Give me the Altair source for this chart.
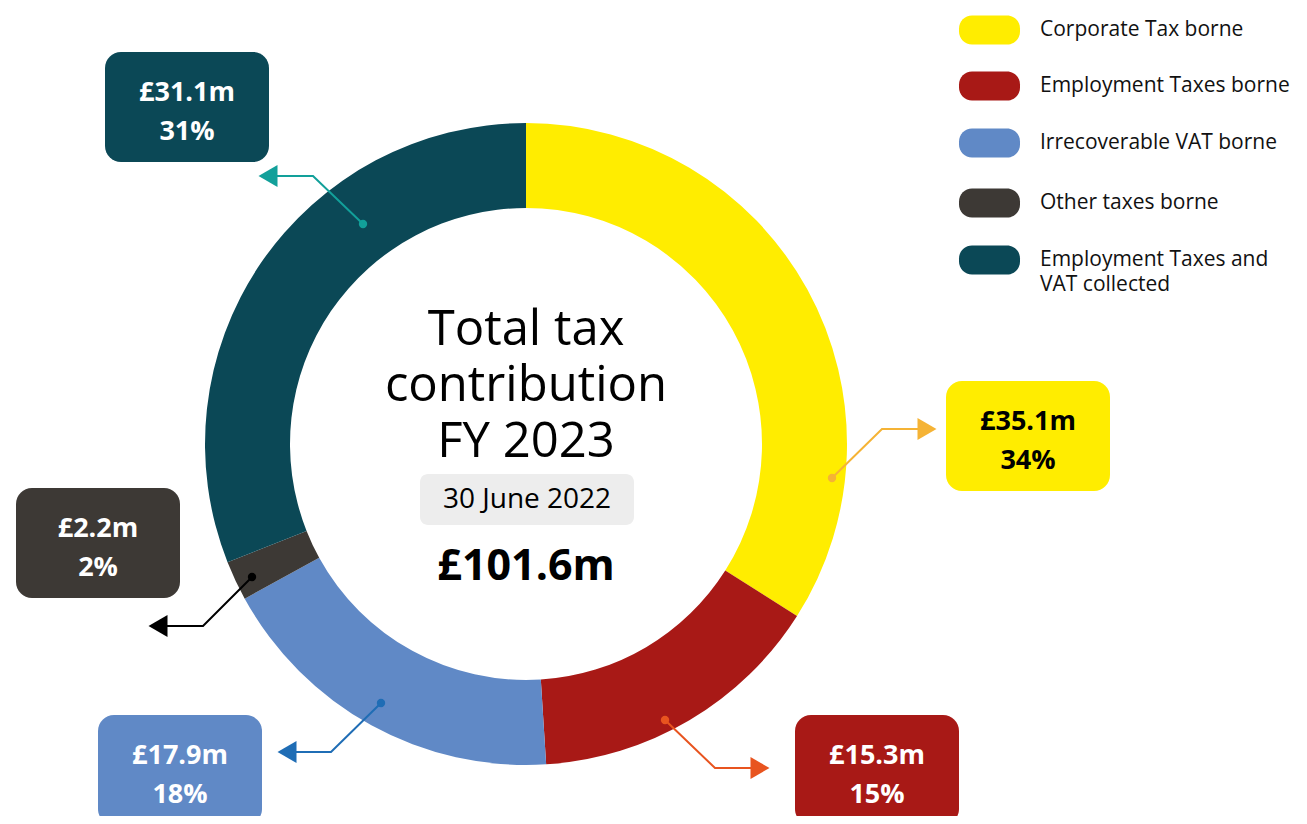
import altair as alt
import pandas as pd

# ---------------- data ----------------
categories = [
    "Corporate Tax borne",
    "Employment Taxes borne",
    "Irrecoverable VAT borne",
    "Other taxes borne",
    "Employment Taxes and VAT collected",
]
amounts = [35.1, 15.3, 17.9, 2.2, 31.1]      # £m
percents = [34, 15, 18, 2, 31]               # % of total
legend_lines = [
    ["Corporate Tax borne"],
    ["Employment Taxes borne"],
    ["Irrecoverable VAT borne"],
    ["Other taxes borne"],
    ["Employment Taxes and", "VAT collected"],
]
center_title = ["Total tax", "contribution", "FY 2023"]
date_label = "30 June 2022"
total_label = "£101.6m"

# ---------------- styles ----------------
seg_colors = ["#FFED00", "#A81916", "#6089C6", "#3D3935", "#0B4856"]
pointer_colors = ["#F5B335", "#E8541F", "#1F6DB5", "#000000", "#12A09A"]
label_text_colors = ["#000000", "#FFFFFF", "#FFFFFF", "#FFFFFF", "#FFFFFF"]
FONT = "Open Sans"

# ---------------- layout (page pixels) ----------------
W, H, M = 1291, 808, 8
CX, CY, R_IN, R_OUT = 526, 444, 236, 321
box_centers = [(1028, 436), (877, 770), (180, 770), (98, 543), (187, 107)]
BOX_W, BOX_H = 164, 110
pointer_paths = [
    [(832, 478), (882, 429), (927, 429)],
    [(665, 720), (715, 768), (760, 768)],
    [(381, 703), (331, 752), (287, 752)],
    [(252, 577), (203, 626), (158, 626)],
    [(363, 224), (313, 176), (268, 176)],
]
pointer_dirs = ["triangle-right", "triangle-right", "triangle-left", "triangle-left", "triangle-left"]
legend_rows_y = [30, 86, 143, 203, 260]
LEGEND_LH = 25


def px(v):
    return v - M


X = lambda f: alt.X(f, type="quantitative", scale=alt.Scale(domain=[0, W], nice=False, zero=False), axis=None)
Y = lambda f: alt.Y(f, type="quantitative", scale=alt.Scale(domain=[0, H], nice=False, zero=False, reverse=True), axis=None)

# donut
arc_df = pd.DataFrame({"cat": categories, "pct": percents, "amount": amounts,
                       "idx": list(range(len(categories))), "col": seg_colors})
donut = alt.Chart(arc_df).mark_arc(innerRadius=R_IN, outerRadius=R_OUT).encode(
    theta=alt.Theta("pct:Q", stack=True),
    order=alt.Order("idx:Q"),
    color=alt.Color("col:N", scale=None),
    x=alt.value(px(CX)),
    y=alt.value(px(CY)),
)

# pointer lines
line_rows = []
dot_rows = []
head_rows = []
for i, path in enumerate(pointer_paths):
    for j, (xx, yy) in enumerate(path):
        line_rows.append({"cat": categories[i], "o": j, "x": px(xx), "y": px(yy), "col": pointer_colors[i]})
    dot_rows.append({"x": px(path[0][0]), "y": px(path[0][1]), "col": pointer_colors[i]})
    head_rows.append({"x": px(path[-1][0]), "y": px(path[-1][1]), "col": pointer_colors[i], "shape": pointer_dirs[i]})

lines = alt.Chart(pd.DataFrame(line_rows)).mark_line(strokeWidth=2).encode(
    x=X("x"), y=Y("y"), detail="cat:N", order="o:Q", color=alt.Color("col:N", scale=None))
dots = alt.Chart(pd.DataFrame(dot_rows)).mark_point(filled=True, size=70, opacity=1, shape="circle").encode(
    x=X("x"), y=Y("y"), color=alt.Color("col:N", scale=None))
heads = alt.Chart(pd.DataFrame(head_rows)).mark_point(filled=True, size=480, opacity=1).encode(
    x=X("x"), y=Y("y"), color=alt.Color("col:N", scale=None), shape=alt.Shape("shape:N", scale=None))

# label boxes
box_rows = []
btxt_rows = []
for i, (bx, by) in enumerate(box_centers):
    box_rows.append({"x": px(bx - BOX_W / 2), "x2": px(bx + BOX_W / 2),
                     "y": px(by - BOX_H / 2), "y2": px(by + BOX_H / 2), "col": seg_colors[i]})
    btxt_rows.append({"x": px(bx), "y": px(by - 6), "t": f"£{amounts[i]}m\n{percents[i]}%",
                      "col": label_text_colors[i]})

boxes = alt.Chart(pd.DataFrame(box_rows)).mark_rect(cornerRadius=16).encode(
    x=X("x"), x2="x2", y=Y("y"), y2="y2", color=alt.Color("col:N", scale=None))
box_text = alt.Chart(pd.DataFrame(btxt_rows)).mark_text(
    font=FONT, fontSize=27, fontWeight="bold", align="center", baseline="alphabetic",
    lineBreak="\n", lineHeight=39).encode(
    x=X("x"), y=Y("y"), text="t:N", color=alt.Color("col:N", scale=None))

# centre text
center_text = alt.Chart(pd.DataFrame([{"x": px(CX), "y": px(345), "t": "\n".join(center_title)}])).mark_text(
    font=FONT, fontSize=49, align="center", baseline="alphabetic", color="#000000",
    lineBreak="\n", lineHeight=56).encode(
    x=X("x"), y=Y("y"), text="t:N")
date_box = alt.Chart(pd.DataFrame([{"x": px(420), "x2": px(634), "y": px(474), "y2": px(525)}])).mark_rect(
    cornerRadius=8, color="#EDEDED").encode(x=X("x"), x2="x2", y=Y("y"), y2="y2")
date_text = alt.Chart(pd.DataFrame([{"x": px(527), "y": px(508), "t": date_label}])).mark_text(
    font=FONT, fontSize=28, align="center", baseline="alphabetic", color="#000000").encode(
    x=X("x"), y=Y("y"), text="t:N")
total_text = alt.Chart(pd.DataFrame([{"x": px(526), "y": px(580), "t": total_label}])).mark_text(
    font=FONT, fontSize=43, fontWeight="bold", align="center", baseline="alphabetic", color="#000000").encode(
    x=X("x"), y=Y("y"), text="t:N")

# legend
sw_rows = []
lt_rows = []
for i, ly in enumerate(legend_rows_y):
    sw_rows.append({"x": px(959), "x2": px(1020), "y": px(ly - 14.5), "y2": px(ly + 14.5), "col": seg_colors[i]})
    lt_rows.append({"x": px(1040), "y": px(ly), "t": "\n".join(legend_lines[i])})
swatches = alt.Chart(pd.DataFrame(sw_rows)).mark_rect(cornerRadius=13).encode(
    x=X("x"), x2="x2", y=Y("y"), y2="y2", color=alt.Color("col:N", scale=None))
legend_text = alt.Chart(pd.DataFrame(lt_rows)).mark_text(
    font=FONT, fontSize=21, align="left", baseline="middle", color="#111111",
    lineBreak="\n", lineHeight=LEGEND_LH).encode(
    x=X("x"), y=Y("y"), text="t:N")

chart = alt.layer(
    donut, lines, dots, heads, boxes, box_text,
    center_text, date_box, date_text, total_text, swatches, legend_text,
).properties(
    width=W, height=H, padding=0, autosize=alt.AutoSizeParams(type="none"),
).configure_view(stroke=None)

chart.save("out.html", embed_options={"renderer": "svg", "actions": False})
